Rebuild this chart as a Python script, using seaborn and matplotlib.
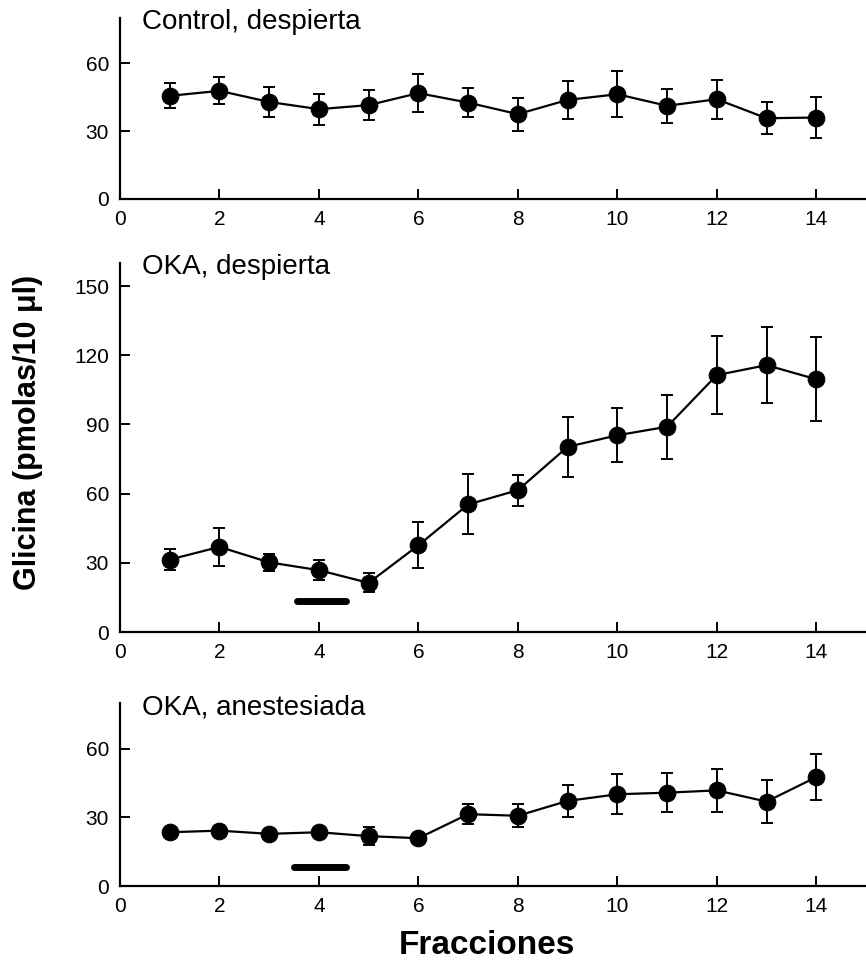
import numpy as np
import pandas as pd
import matplotlib
matplotlib.use("Agg")
import matplotlib.pyplot as plt
import seaborn as sns

sns.set_style("ticks")
plt.rcParams['font.family'] = ['Liberation Sans', 'DejaVu Sans']
plt.rcParams['text.color'] = 'black'
plt.rcParams['xtick.color'] = 'black'
plt.rcParams['ytick.color'] = 'black'
plt.rcParams['axes.edgecolor'] = 'black'

fracciones = list(range(1, 15))

control_mean = [45.6, 47.8, 42.9, 39.7, 41.5, 46.8, 42.6, 37.5, 43.8, 46.3, 41.2, 44.1, 35.7, 36.0]
control_err = [5.5, 6.0, 6.7, 6.9, 6.7, 8.5, 6.4, 7.3, 8.5, 10.2, 7.5, 8.7, 7.0, 9.0]

oka_desp_mean = [31.4, 36.9, 30.2, 26.8, 21.3, 37.6, 55.3, 61.5, 80.3, 85.3, 89.0, 111.4, 115.7, 109.6]
oka_desp_err = [4.7, 8.2, 3.8, 4.3, 4.1, 10.0, 13.0, 6.7, 13.1, 11.8, 13.9, 16.9, 16.6, 18.3]

oka_anest_mean = [23.5, 24.2, 22.8, 23.5, 21.8, 20.9, 31.4, 30.7, 37.2, 40.1, 40.8, 41.8, 36.9, 47.6]
oka_anest_err = [1.5, 1.5, 1.5, 1.5, 4.0, 1.5, 4.5, 5.1, 7.1, 8.8, 8.6, 9.3, 9.5, 10.0]

titles = ["Control, despierta", "OKA, despierta", "OKA, anestesiada"]
y_ticks = [[0, 30, 60], [0, 30, 60, 90, 120, 150], [0, 30, 60]]
y_max = [80, 160, 80]
x_ticks = [0, 2, 4, 6, 8, 10, 12, 14]

# treatment bar (start, end, level) for panels 2 and 3
bars = [None, (3.55, 4.55, 13.5), (3.5, 4.55, 8.5)]

means = [control_mean, oka_desp_mean, oka_anest_mean]
errs = [control_err, oka_desp_err, oka_anest_err]

W, H = 866, 968
fig = plt.figure(figsize=(W / 100, H / 100), dpi=100)

# axes pixel boxes: (left, top, right, bottom)
boxes = [(120, 18, 866, 199), (120, 263, 866, 632), (120, 703, 866, 886)]

for i in range(3):
    l, t, r, b = boxes[i]
    ax = fig.add_axes([l / W, 1 - b / H, (r - l) / W, (b - t) / H])
    df = pd.DataFrame({"Fraccion": fracciones, "Glicina": means[i], "err": errs[i]})
    ax.errorbar(df["Fraccion"], df["Glicina"], yerr=df["err"], fmt="none",
                ecolor="black", elinewidth=1.4, capsize=4, capthick=1.4, zorder=2)
    sns.lineplot(data=df, x="Fraccion", y="Glicina", ax=ax, color="black",
                 linewidth=1.6, marker="o", markersize=12,
                 markerfacecolor="black", markeredgecolor="black", zorder=3)
    if bars[i] is not None:
        x0, x1, yv = bars[i]
        ax.plot([x0, x1], [yv, yv], color="black", linewidth=5,
                solid_capstyle="round", zorder=3)
    ax.set_xlim(0, 15)
    ax.set_ylim(0, y_max[i])
    ax.set_xticks(x_ticks)
    ax.set_yticks(y_ticks[i])
    ax.tick_params(direction="in", length=7, width=1.4, labelsize=15, pad=8)
    ax.set_xlabel("")
    ax.set_ylabel("")
    for s in ["top", "right"]:
        ax.spines[s].set_visible(False)
    for s in ["left", "bottom"]:
        ax.spines[s].set_linewidth(1.6)
    ax.text((142 - l) / (r - l), (b - (t + 4)) / (b - t), titles[i],
            transform=ax.transAxes, fontsize=20, va="center", ha="left")

fig.text(28 / W, 1 - 432 / H, "Glicina (pmolas/10 \u03bcl)", rotation=90,
         fontsize=22, fontweight="bold", ha="center", va="center")
fig.text(487 / W, 1 - 945 / H, "Fracciones", fontsize=24, fontweight="bold",
         ha="center", va="center")

fig.savefig("out.png", dpi=100)
